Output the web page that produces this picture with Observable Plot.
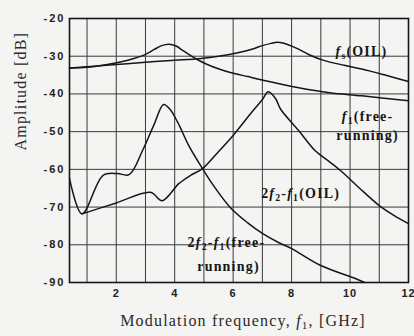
<!DOCTYPE html>
<html><head><meta charset="utf-8">
<script src="https://cdn.jsdelivr.net/npm/d3@7"></script>
<script src="https://cdn.jsdelivr.net/npm/@observablehq/plot@0.6"></script>
<style>
html,body{margin:0;padding:0;background:#f4f4f2;}
#chart svg{display:block}
g[aria-label="y-axis tick label"] text, g[aria-label="x-axis tick label"] text{
  font-family:"Liberation Sans",Arial,sans-serif;font-weight:bold;font-size:11px;letter-spacing:2px;fill:#222}
g[aria-label="x-axis tick label"] text{letter-spacing:1px}
g[aria-label="text"] text{letter-spacing:1.2px}
</style></head><body><div id="chart"></div><script>
// ---- data ----
const xTicks = [2, 4, 6, 8, 10, 12];
const yTicks = [-20, -30, -40, -50, -60, -70, -80, -90];
const xGrid = [1, 2, 3, 4, 5, 6, 7, 8, 9, 10, 11];
const yGrid = [-30, -40, -50, -60, -70, -80];

// f_s (OIL)
const fsOIL_f  = [0.4, 1.0, 2.0, 3.0, 4.0, 4.9, 5.5, 6.2, 6.7, 7.0, 7.3, 7.5, 7.7, 8.2, 8.6, 9.1, 9.8, 10.4, 11.2, 12.0];
const fsOIL_dB = [-33.1, -32.8, -32.2, -31.6, -31.1, -30.6, -30.0, -29.0, -28.0, -27.2, -26.6, -26.3, -26.5, -28.0, -29.6, -31.1, -32.4, -33.4, -35.0, -36.7];
// f_1 (free-running)
const f1FR_f  = [0.4, 1.0, 1.6, 2.1, 2.6, 3.0, 3.3, 3.55, 3.8, 4.05, 4.3, 4.8, 5.3, 5.9, 6.5, 7.0, 8.2, 9.3, 10.4, 12.0];
const f1FR_dB = [-33.1, -32.9, -32.3, -31.6, -30.6, -29.5, -28.2, -27.2, -26.8, -27.3, -28.6, -31.0, -32.8, -34.3, -35.4, -36.3, -38.3, -39.7, -40.5, -41.8];
// 2f_2 - f_1 (free-running)
const imFR_f  = [0.4, 0.83, 1.55, 2.03, 2.44, 2.9, 3.3, 3.62, 3.85, 4.1, 4.5, 4.95, 5.3, 5.9, 6.5, 7.0, 7.55, 8.0, 9.0, 10.2, 10.5];
const imFR_dB = [-62.4, -71.8, -61.6, -61.1, -61.4, -55.0, -48.0, -42.8, -44.2, -47.5, -54.0, -59.8, -64.0, -70.1, -74.2, -77.0, -79.4, -81.0, -85.5, -89.0, -90.0];
// 2f_2 - f_1 (OIL)
const imOIL_f  = [0.83, 2.0, 3.17, 3.57, 4.14, 4.54, 4.95, 5.45, 6.0, 6.6, 7.0, 7.2, 7.45, 7.62, 8.24, 8.8, 9.3, 9.7, 10.3, 11.0, 11.5, 12.0];
const imOIL_dB = [-71.8, -68.9, -66.1, -68.3, -63.8, -61.6, -59.8, -55.7, -51.0, -45.2, -41.5, -39.4, -41.2, -44.0, -49.7, -55.0, -58.0, -60.5, -64.8, -69.6, -72.2, -74.4];

const xLabel = "Modulation frequency, f_1, [GHz]";
const yLabel = "Amplitude [dB]";
const notes = [
  {text: "f_s(OIL)",        f: 10.39, dB: -28.75},
  {text: "f_1(free-",       f: 10.6,  dB: -46.0},
  {text: "running)",        f: 10.6,  dB: -51.0},
  {text: "2f_2-f_1(OIL)",   f: 8.31,  dB: -66.4},
  {text: "2f_2-f_1(free-",  f: 5.77,  dB: -79.4},
  {text: "running)",        f: 5.84,  dB: -85.8}
];

const zip = (fs, ds) => fs.map((f, i) => ({f, dB: ds[i]}));
const series = [zip(fsOIL_f, fsOIL_dB), zip(f1FR_f, f1FR_dB), zip(imFR_f, imFR_dB), zip(imOIL_f, imOIL_dB)];

const serif = '"Liberation Serif","Times New Roman",serif';
const ink = "#161616";

const chart = Plot.plot({
  width: 414, height: 336,
  marginLeft: 69, marginRight: 6, marginTop: 18, marginBottom: 54,
  style: {background: "#f4f4f2", overflow: "visible"},
  x: {domain: [0.4, 12]},
  y: {domain: [-90, -20]},
  marks: [
    Plot.ruleX(xGrid, {stroke: "#3a3a3a", strokeWidth: 1}),
    Plot.ruleY(yGrid, {stroke: "#3a3a3a", strokeWidth: 1}),
    ...series.map(d => Plot.line(d, {x: "f", y: "dB", stroke: ink, strokeWidth: 1.5, curve: "catmull-rom"})),
    Plot.frame({stroke: ink, strokeWidth: 1.6}),
    Plot.axisY({ticks: yTicks, tickSize: 0, tickPadding: 4, label: null, tickFormat: d => String(d)}),
    Plot.axisX({ticks: xTicks, tickSize: 0, tickPadding: 7, label: null, tickFormat: d => String(d)}),
    Plot.text(notes, {x: "f", y: "dB", text: "text", fontFamily: serif, fontSize: 14, fontWeight: "bold", fill: ink, textAnchor: "middle"}),
    Plot.text([xLabel], {frameAnchor: "bottom", dy: 43, dx: 4, fontFamily: serif, fontSize: 16, fill: "#2a2a2a"}),
    Plot.text([yLabel], {frameAnchor: "left", dx: -49, rotate: -90, fontFamily: serif, fontSize: 16, fill: "#2a2a2a"})
  ]
});

// italic f with subscript index
d3.select(chart).selectAll('g[aria-label="text"] text').each(function () {
  const s = this.textContent;
  if (!s.includes("_")) return;
  const el = d3.select(this);
  el.text(null);
  const re = /f_(\w)/g;
  let last = 0, m, down = false;
  const add = (txt) => { if (!txt) return null; const t = el.append("tspan").text(txt); if (down) { t.attr("dy", -3); down = false; } return t; };
  while ((m = re.exec(s))) {
    add(s.slice(last, m.index));
    add("f").attr("font-style", "italic");
    el.append("tspan").text(m[1]).attr("font-size", "0.7em").attr("dy", 3);
    down = true;
    last = re.lastIndex;
  }
  add(s.slice(last));
});

document.getElementById("chart").append(chart);
</script></body></html>
